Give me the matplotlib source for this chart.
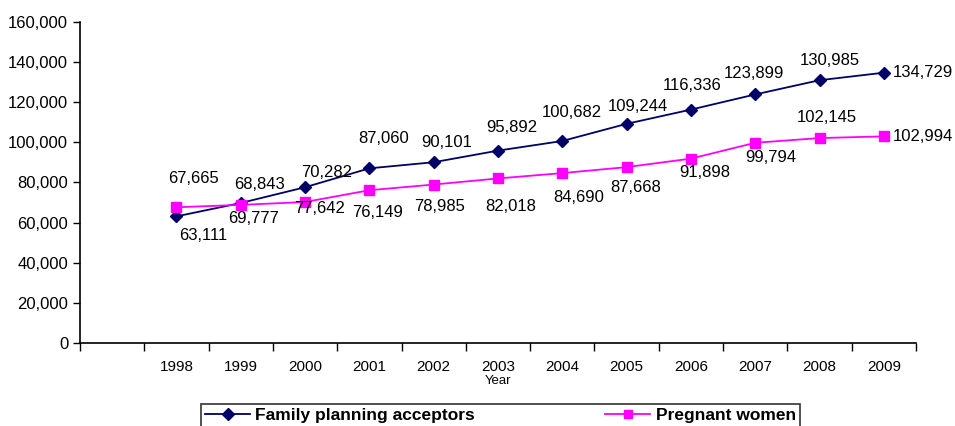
import numpy as np
import matplotlib
matplotlib.use('Agg')
import matplotlib.pyplot as plt
from matplotlib.ticker import FuncFormatter, FixedLocator

# Data
years = ['1998', '1999', '2000', '2001', '2002', '2003',
         '2004', '2005', '2006', '2007', '2008', '2009']
family_planning = [63111, 69777, 77642, 87060, 90101, 95892,
                   100682, 109244, 116336, 123899, 130985, 134729]
pregnant_women = [67665, 68843, 70282, 76149, 78985, 82018,
                  84690, 87668, 91898, 99794, 102145, 102994]

# Label placement (pixel offsets from each point, x right / y down), Excel-style
fp_offsets = [(27, 19), (13, 15), (14, 21), (14, -30), (13, -20), (14, -23),
              (10, -29), (11, -17), (1, -24), (-1, -21), (10, -20), (39, 0)]
pw_offsets = [(17, -29), (19, -20), (22, -29), (8, 22), (6, 22), (13, 28),
              (16, 24), (9, 20), (14, 14), (16, 15), (7, -21), (39, 0)]

NAVY = '#000066'
MAGENTA = '#FF00FF'
REGULAR = ['Liberation Sans', 'DejaVu Sans']
NARROW = ['Liberation Sans Narrow', 'Liberation Sans', 'DejaVu Sans']

fig = plt.figure(figsize=(9.55, 4.26), dpi=100)
ax = fig.add_axes([80 / 955, 83 / 426, 836 / 955, 321 / 426])

x = np.arange(1, len(years) + 1)
ax.plot(x, family_planning, color=NAVY, lw=1.3, marker='D', ms=6.5,
        label='Family planning acceptors', zorder=3)
ax.plot(x, pregnant_women, color=MAGENTA, lw=1.3, marker='s', ms=6.5,
        label='Pregnant women', zorder=3)

for xi, v, (dx, dy) in zip(x, family_planning, fp_offsets):
    ax.annotate(f'{v:,}', (xi, v), xytext=(dx, -dy), textcoords='offset pixels',
                ha='center', va='center', fontsize=12, family=REGULAR)
for xi, v, (dx, dy) in zip(x, pregnant_women, pw_offsets):
    ax.annotate(f'{v:,}', (xi, v), xytext=(dx, -dy), textcoords='offset pixels',
                ha='center', va='center', fontsize=12, family=REGULAR)

ax.set_xlim(-0.5, len(years) + 0.5)
ax.set_ylim(0, 160000)
ax.set_yticks(np.arange(0, 160001, 20000))
ax.yaxis.set_major_formatter(FuncFormatter(lambda v, p: f'{int(v):,}'))
for lab in ax.get_yticklabels():
    lab.set_family(REGULAR)
    lab.set_fontsize(12)

# category boundaries get tick marks, labels sit in the middle
ax.xaxis.set_major_locator(FixedLocator(np.arange(-0.5, len(years) + 1)))
ax.xaxis.set_major_formatter(FuncFormatter(lambda v, p: ''))
ax.xaxis.set_minor_locator(FixedLocator(x))
ax.set_xticklabels(years, minor=True)
ax.tick_params(axis='x', which='major', length=6, width=1, direction='out')
ax.tick_params(axis='x', which='minor', length=0, pad=12)
ax.tick_params(axis='y', length=5, width=1, direction='out')
for lab in ax.get_xticklabels(minor=True):
    lab.set_family(NARROW)
    lab.set_fontsize(11)

ax.set_xlabel('Year', family=NARROW, fontsize=9.5, labelpad=1)

for side in ['top', 'right']:
    ax.spines[side].set_visible(False)
for side in ['left', 'bottom']:
    ax.spines[side].set_linewidth(1.2)

leg = fig.legend(loc='lower center', bbox_to_anchor=(0.524, -0.004), ncol=2,
                 frameon=True, fancybox=False, edgecolor='black',
                 prop={'family': NARROW, 'weight': 'bold', 'size': 12.5},
                 handlelength=2.6, columnspacing=7.5, borderpad=0.25,
                 handletextpad=0.3, borderaxespad=0)
leg.get_frame().set_linewidth(1.2)
for h in leg.legend_handles:
    h.set_markersize(6)

fig.savefig('out.png', dpi=100)
